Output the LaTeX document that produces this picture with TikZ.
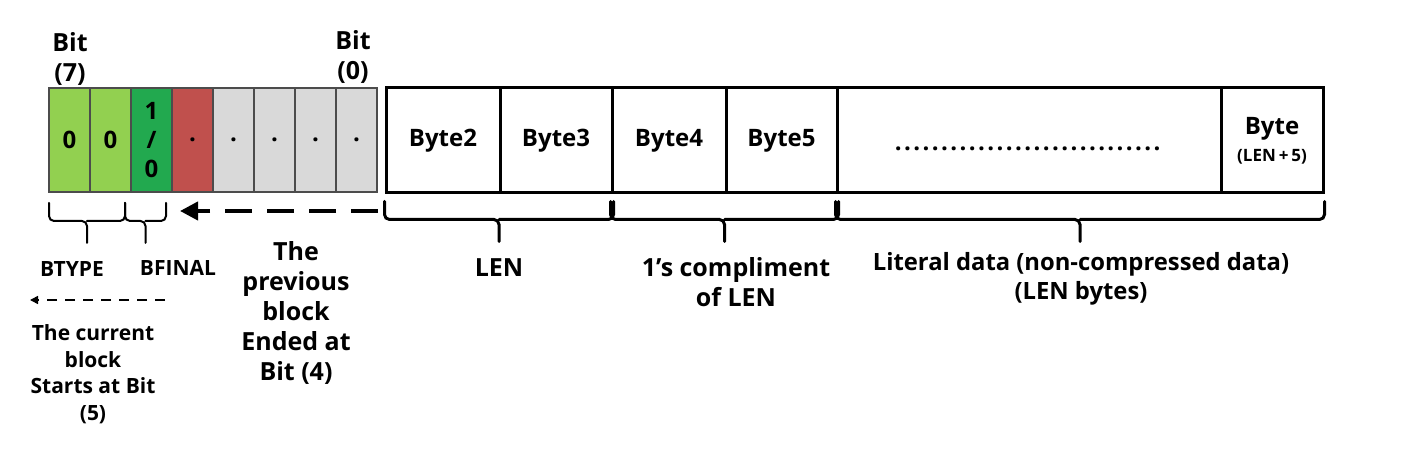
\documentclass[tikz,border=0pt]{standalone}
\usepackage{fontspec}
\setmainfont{Open Sans}
\usetikzlibrary{arrows.meta,calc}

\definecolor{lgreen}{HTML}{92D050}
\definecolor{dgreen}{HTML}{22A94F}
\definecolor{bred}{HTML}{C0504D}
\definecolor{lgray}{HTML}{D9D9D9}

\tikzset{
  bitbox/.style={draw=black!70, line width=0.6pt, minimum width=20.5pt, minimum height=52pt,
    inner sep=0pt, align=center, font=\bfseries\fontsize{12}{14.5}\selectfont},
  bytebox/.style={draw, line width=1.5pt, minimum height=52.5pt, inner sep=0pt,
    align=center, font=\bfseries\fontsize{12}{14.5}\selectfont},
  lbl/.style={inner sep=0pt, align=center, font=\bfseries\fontsize{12.5}{15}\selectfont},
  smalllbl/.style={inner sep=0pt, align=center, font=\bfseries\fontsize{10.5}{13.3}\selectfont},
  % a flat curly brace opening downwards
  bracket/.style={rounded corners=2.5pt, line cap=round, to path={
    (\tikztostart) -- ++(0,-9pt) -- ($(\tikztostart)!.5!(\tikztotarget)+(0,-9pt)$) -- ++(0,-11pt)
    ($(\tikztostart)!.5!(\tikztotarget)+(0,-9pt)$) -- ($(\tikztotarget)+(0,-9pt)$) -- (\tikztotarget)}},
  bigbrace/.style={bracket, line width=1.5pt},
  smallbrace/.style={bracket, line width=1pt},
}

\begin{document}
\begin{tikzpicture}[x=0.5pt, y=-0.5pt]
\useasboundingbox (0,0) rectangle (1405,454);

% bits of the first byte
\node[bitbox, fill=lgreen] (b7) at (69.5,140) {0};
\node[bitbox, fill=lgreen] (b6) at (110.5,140) {0};
\node[bitbox, fill=dgreen] (b5) at (151.5,140) {1\\/\\0};
\node[bitbox, fill=bred]   (b4) at (192.5,140) {.};
\node[bitbox, fill=lgray]  (b3) at (233.5,140) {.};
\node[bitbox, fill=lgray]  (b2) at (274.5,140) {.};
\node[bitbox, fill=lgray]  (b1) at (315.5,140) {.};
\node[bitbox, fill=lgray]  (b0) at (356.5,140) {.};

\node[lbl] (bit7) at (70,59) {Bit\\(7)};
\node[lbl] (bit0) at (353,57) {Bit\\(0)};

% following bytes
\node[bytebox, minimum width=57pt]   (B2) at (443,140.5)   {Byte2};
\node[bytebox, minimum width=56pt]   (B3) at (556,140.5)   {Byte3};
\node[bytebox, minimum width=57pt]   (B4) at (669,140.5)   {Byte4};
\node[bytebox, minimum width=55.5pt] (B5) at (781.5,140.5) {Byte5};
\node[bytebox, minimum width=192pt]  (Bd) at (1029,140.5)
  {\raisebox{-5pt}[0pt][0pt]{\foreach \i in {1,...,29}{.\kern1.2pt}}};
\node[bytebox, minimum width=51pt]   (Bn) at (1272,140.5)
  {Byte\\[-1pt]{\fontsize{8.5}{10}\selectfont (LEN\,+\,5)}};

% braces
\draw[bigbrace] ([yshift=-3.5pt]B2.south west) to ([yshift=-3.5pt]B3.south east);
\draw[bigbrace] ([yshift=-3.5pt]B4.south west) to ([yshift=-3.5pt]B5.south east);
\draw[bigbrace] ([yshift=-3.5pt]Bd.south west) to ([yshift=-3.5pt]Bn.south east);
\draw[smallbrace] (49,203) to (125,203);
\draw[smallbrace] (125,203) to (166,203);

\node[lbl] (len) at (499,268) {LEN};
\node[lbl] (cmp) at (736,282) {1’s compliment\\of LEN};
\node[lbl, font=\bfseries\fontsize{11.9}{14.5}\selectfont] (lit) at (1081,278.5)
  {Literal data (non-compressed data)\\(LEN bytes)};
\node[smalllbl] (btype) at (72,269) {BTYPE};
\node[smalllbl] (bfinal) at (178,268) {BFINAL};

% arrows
\coordinate (p1) at (378,211);
\coordinate (p2) at (180,211);
\coordinate (c1) at (165,300);
\coordinate (c2) at (30,300);
\draw[line width=2pt, dash pattern=on 13.5pt off 7.5pt, -{Triangle[length=9pt,width=9pt]}] (p1) -- (p2);
\draw[line width=0.8pt, dash pattern=on 5pt off 4pt, -{Triangle[length=4pt,width=4pt]}] (c1) -- (c2);

\node[lbl] (prev) at (296,313) {The\\previous\\block\\Ended at\\Bit (4)};
\node[smalllbl] (cur) at (93,374) {The current\\block\\Starts at Bit\\(5)};
\end{tikzpicture}
\end{document}
